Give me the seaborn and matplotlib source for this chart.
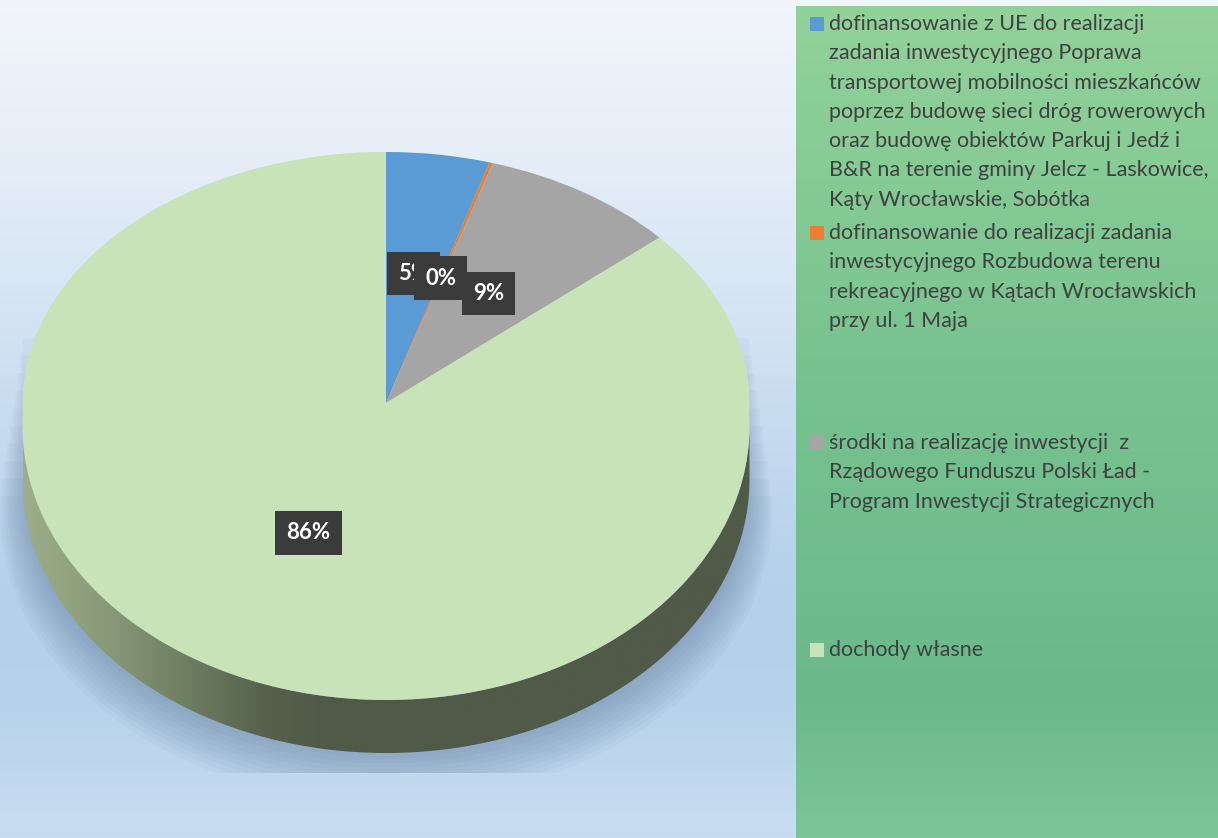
import numpy as np
import matplotlib
matplotlib.use("Agg")
import matplotlib.pyplot as plt
import seaborn as sns
from matplotlib.colors import LinearSegmentedColormap
from matplotlib.patches import Polygon, Rectangle, Ellipse

# data: shares of the budget income (percent)
categories = [
    "dofinansowanie z UE do realizacji\nzadania inwestycyjnego Poprawa\ntransportowej mobilności mieszkańców\npoprzez budowę sieci dróg rowerowych\noraz budowę obiektów Parkuj i Jedź i\nB&R na terenie gminy Jelcz - Laskowice,\nKąty Wrocławskie, Sobótka",
    "dofinansowanie do realizacji zadania\ninwestycyjnego Rozbudowa terenu\nrekreacyjnego w Kątach Wrocławskich\nprzy ul. 1 Maja",
    "środki na realizację inwestycji  z\nRządowego Funduszu Polski Ład -\nProgram Inwestycji Strategicznych",
    "dochody własne",
]
shares = [4.6, 0.15, 8.8, 86.45]
colors = ["#5b9bd5", "#ed7d31", "#a5a5a5", "#c8e3b8"]

W, H = 1218, 838
sns.set_style("white")
plt.rcParams["font.family"] = ["Lato", "DejaVu Sans"]

fig = plt.figure(figsize=(W / 100, H / 100), dpi=100)


def vgrad(axes, stops):
    # vertical gradient, first stop at the top
    cmap = LinearSegmentedColormap.from_list("g", stops)
    axes.imshow(np.linspace(0, 1, 256).reshape(-1, 1), cmap=cmap, aspect="auto",
                extent=[0, 1, 0, 1], origin="upper")
    axes.set_xlim(0, 1)
    axes.set_ylim(0, 1)
    axes.axis("off")


# background gradient
bg = fig.add_axes([0, 0, 1, 1])
vgrad(bg, [(0, "#f2f5fb"), (0.18, "#e6eef8"), (0.36, "#d6e5f5"), (0.54, "#c3d9ee"),
           (0.72, "#b4d0ea"), (0.84, "#b7d2eb"), (1.0, "#c8ddf1")])

# legend panel gradient
lg = fig.add_axes([796 / W, 0, (W - 796) / W, 832 / H])
vgrad(lg, [(0, "#93d29a"), (0.45, "#77c290"), (0.83, "#6bb98b"), (1.0, "#7cc596")])

# pie axes in "ellipse" units: pie centre at pixel (386, 403)
cx, cy, rx, ry = 386, 403, 363.5, 251.0
ax = fig.add_axes([0, 0, 1, 1])
ax.patch.set_alpha(0)

face_c = (403 - 426) / ry      # top face ellipse centre (perspective)
face_ry = 274 / ry
depth = 53 / ry

t = np.linspace(0, -np.pi, 200)
top_arc = np.column_stack([np.cos(t), face_c + face_ry * np.sin(t)])
bot_arc = np.column_stack([np.cos(t), face_c + face_ry * np.sin(t) - depth])
side_pts = np.vstack([top_arc, bot_arc[::-1]])

# soft shadow below the pie, fading upwards
clip_rect = Rectangle(((0 - cx) / rx, (cy - 773) / ry), 775 / rx, 3,
                      transform=ax.transData)
for k in range(10):
    g = 1 + 0.007 * k
    off = depth + 0.02 + 0.012 * k
    y_top = face_c + 0.35 - 0.07 * k
    arc = np.column_stack([g * np.cos(t), face_c + face_ry * g * np.sin(t) - off])
    sh = np.vstack([[g, y_top], arc, [-g, y_top]])
    p = Polygon(sh, closed=True, facecolor="#5a7595", edgecolor="none", alpha=0.05, zorder=1)
    ax.add_patch(p)
    p.set_clip_path(clip_rect)

# side of the 3D pie with horizontal shading
side = Polygon(side_pts, closed=True, facecolor="none", edgecolor="none", zorder=2)
ax.add_patch(side)
side_cmap = LinearSegmentedColormap.from_list(
    "side", [(0, "#9dae89"), (0.12, "#879977"), (0.24, "#6a7a5e"), (0.34, "#545f4c"),
             (0.42, "#4f5a48"), (1, "#4f5a48")])
im = ax.imshow(np.linspace(0, 1, 256).reshape(1, -1), cmap=side_cmap, aspect="auto",
               extent=[-1, 1, face_c - face_ry - depth, face_c + 0.1], zorder=2)
im.set_clip_path(side)

# top face
ax.add_patch(Ellipse((0, face_c), 2, 2 * face_ry, facecolor=colors[3], edgecolor="none", zorder=3))

wedges, _, autotexts = ax.pie(
    shares, colors=colors, startangle=90, counterclock=False,
    autopct="%1.0f%%", pctdistance=0.52,
    wedgeprops=dict(linewidth=0, edgecolor="none"),
    textprops=dict(color="white", fontsize=16, fontweight="bold"))
for w in wedges:
    w.set_zorder(4)
for txt in autotexts:
    txt.set_bbox(dict(boxstyle="square,pad=0.5", facecolor="#3b3b3b", edgecolor="none"))
    txt.set_zorder(6)

# the big slice label sits a little further out
big = wedges[-1]
mid = np.deg2rad((big.theta1 + big.theta2) / 2 + 2)
autotexts[-1].set_position((0.56 * np.cos(mid), 0.56 * np.sin(mid)))

ax.set_aspect("auto")
ax.set_xlim((0 - cx) / rx, (W - cx) / rx)
ax.set_ylim((cy - H) / ry, (cy - 0) / ry)
ax.axis("off")

# legend drawn by hand to follow the reference spacing
entry_tops = [24, 233, 443, 650]
line_h = 29.3
for cat, col, y0 in zip(categories, colors, entry_tops):
    fig.patches.append(Rectangle((810 / W, 1 - (y0 + 7) / H), 14 / W, 14 / H,
                                 transform=fig.transFigure, facecolor=col,
                                 edgecolor="none", figure=fig))
    for i, line in enumerate(cat.split("\n")):
        fig.text(829 / W, 1 - (y0 + i * line_h) / H, line, ha="left", va="center",
                 fontsize=15.5, color="#404040")

fig.savefig("out.png", dpi=100)
